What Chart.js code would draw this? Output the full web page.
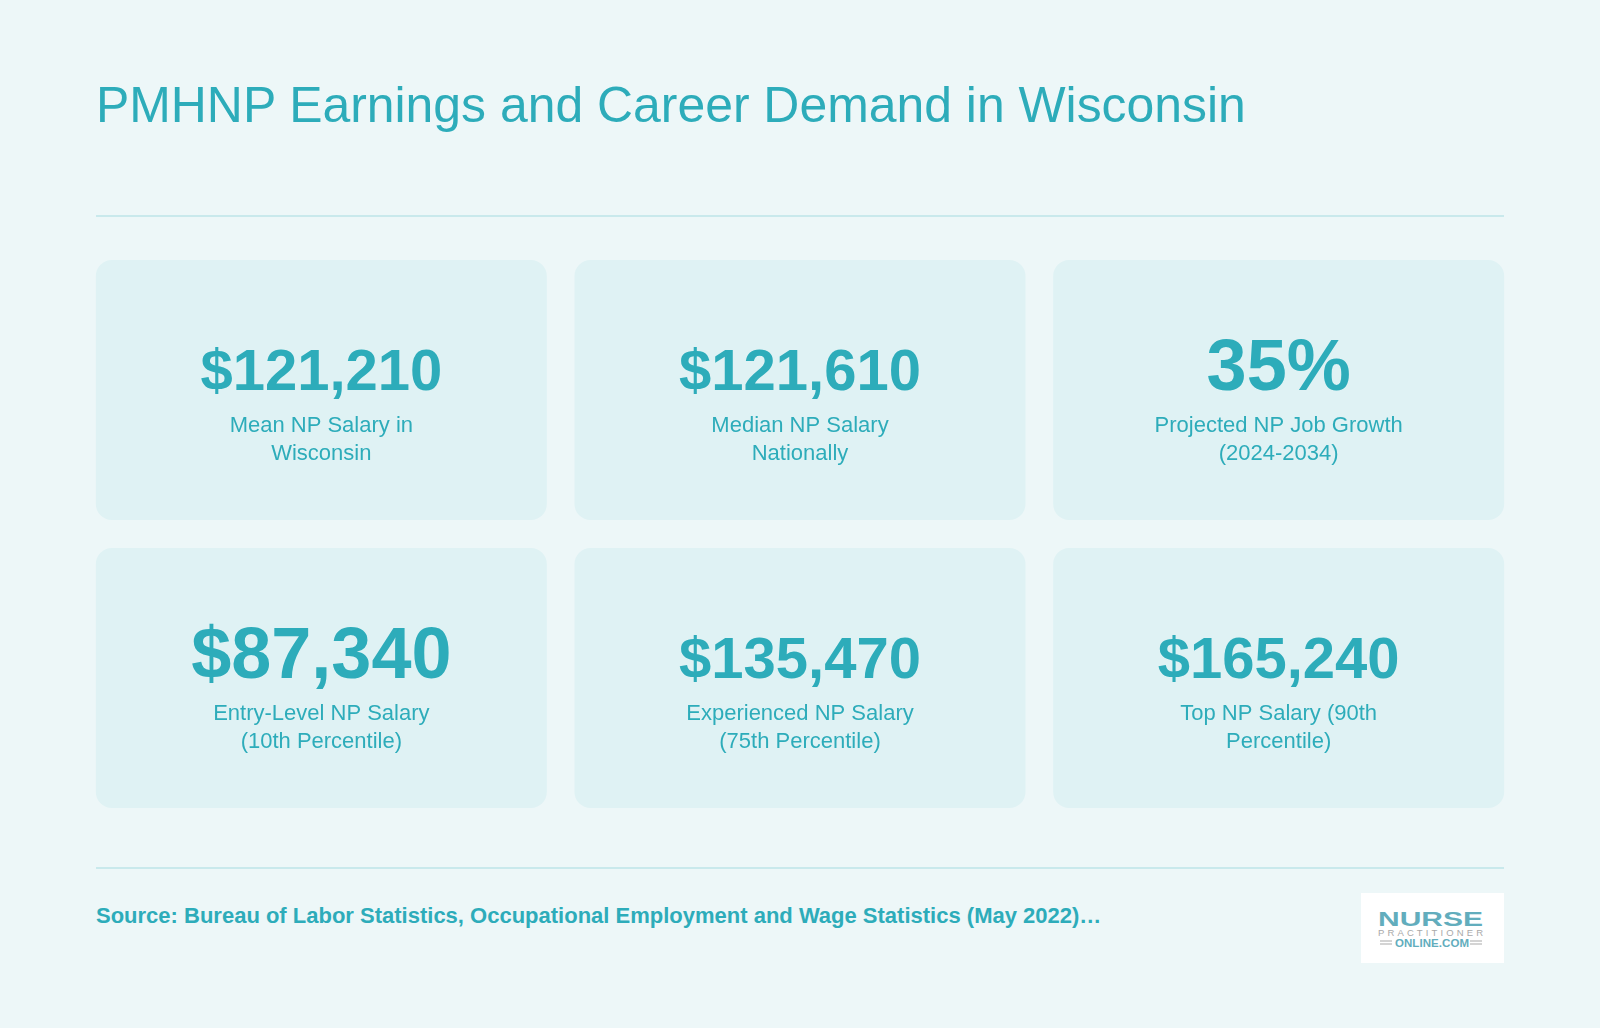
<!DOCTYPE html>
<html lang="en">
<head>
  <meta charset="UTF-8">
  <title>PMHNP Earnings and Career Demand in Wisconsin</title>
  <script src="https://cdn.jsdelivr.net/npm/chart.js"></script>
  <style>
    html, body { margin: 0; padding: 0; background: #edf7f8; }
    body { width: 1600px; height: 1028px; position: relative; overflow: hidden; font-family: "Liberation Sans", Arial, sans-serif; color: #2dacba; }
    h1 { position: absolute; left: 96px; top: 73px; margin: 0; font-size: 49.9px; line-height: 64px; font-weight: 400; white-space: nowrap; }
    .rule { position: absolute; left: 96px; width: 1408px; height: 2px; background: #c9e9ec; }
    .row { position: absolute; left: 82px; width: 1436px; height: 260px; }
    #source { position: absolute; left: 96px; top: 903px; font-size: 22px; line-height: 26px; font-weight: 700; white-space: nowrap; }
    #logo { position: absolute; left: 1361px; top: 893px; width: 143px; height: 70px; background: #fff; }
  </style>
</head>
<body>
  <h1>PMHNP Earnings and Career Demand in Wisconsin</h1>
  <div class="rule" style="top: 215px"></div>

  <div class="row" style="top: 260px"><canvas id="topRow"></canvas></div>
  <div class="row" style="top: 548px"><canvas id="bottomRow"></canvas></div>

  <div class="rule" style="top: 867px"></div>
  <div id="source">Source: Bureau of Labor Statistics, Occupational Employment and Wage Statistics (May 2022)…</div>

  <svg id="logo" viewBox="0 0 143 70" font-family="Liberation Sans">
    <text x="17" y="33" font-size="20" font-weight="700" fill="#62adbd" textLength="105" lengthAdjust="spacingAndGlyphs">NURSE</text>
    <text x="17" y="43" font-size="9.5" fill="#a9a9a9" textLength="105">PRACTITIONER</text>
    <text x="34" y="54" font-size="11.5" font-weight="700" fill="#62adbd" textLength="74">ONLINE.COM</text>
    <path d="M19 48h12M19 51h12M109 48h12M109 51h12" stroke="#a9a9a9" stroke-width="1"/>
  </svg>

  <script>
    const topValues = ['$121,210', '$121,610', '35%'];
    const topCaptions = [
      ['Mean NP Salary in', 'Wisconsin'],
      ['Median NP Salary', 'Nationally'],
      ['Projected NP Job Growth', '(2024-2034)']
    ];
    const bottomValues = ['$87,340', '$135,470', '$165,240'];
    const bottomCaptions = [
      ['Entry-Level NP Salary', '(10th Percentile)'],
      ['Experienced NP Salary', '(75th Percentile)'],
      ['Top NP Salary (90th', 'Percentile)']
    ];
    const cardSlots = [1, 1, 1];

    const TEAL = '#2dacba';
    const FONT = '"Liberation Sans", Arial, sans-serif';
    const LARGE = ['35%', '$87,340'];

    // writes the figure and its caption over each card
    const cardText = {
      id: 'cardText',
      afterDatasetsDraw(chart, args, opts) {
        const ctx = chart.ctx;
        const top = chart.chartArea.top;
        ctx.save();
        ctx.fillStyle = TEAL;
        ctx.textAlign = 'center';
        ctx.textBaseline = 'alphabetic';
        chart.getDatasetMeta(0).data.forEach((bar, i) => {
          const size = LARGE.includes(opts.values[i]) ? 72 : 58;
          ctx.font = `700 ${size}px ${FONT}`;
          ctx.fillText(opts.values[i], bar.x, top + 130);
          ctx.font = `400 22px ${FONT}`;
          opts.captions[i].forEach((line, n) => {
            ctx.fillText(line, bar.x, top + 172 + n * 28);
          });
        });
        ctx.restore();
      }
    };

    function makeRow(id, values, captions) {
      return new Chart(document.getElementById(id), {
        type: 'bar',
        data: {
          labels: values,
          datasets: [{
            data: cardSlots,
            backgroundColor: '#dff2f4',
            borderRadius: 16,
            borderSkipped: false,
            barPercentage: 1,
            categoryPercentage: 451 / 478.67
          }]
        },
        options: {
          responsive: true,
          maintainAspectRatio: false,
          animation: false,
          events: [],
          scales: {
            x: { display: false },
            y: { display: false, min: 0, max: 1 }
          },
          plugins: {
            legend: { display: false },
            tooltip: { enabled: false },
            cardText: { values: values, captions: captions }
          }
        },
        plugins: [cardText]
      });
    }

    makeRow('topRow', topValues, topCaptions);
    makeRow('bottomRow', bottomValues, bottomCaptions);
  </script>
</body>
</html>
